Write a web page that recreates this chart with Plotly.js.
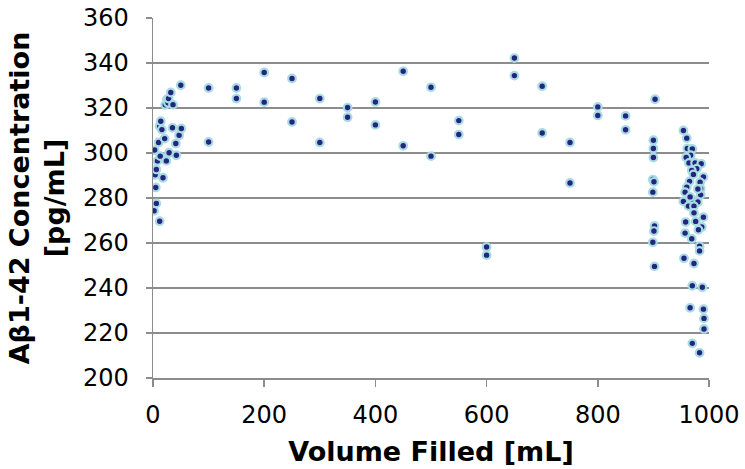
<!DOCTYPE html>
<html>
<head>
<meta charset="utf-8">
<script src="https://cdn.plot.ly/plotly-3.0.1.min.js"></script>
<style>html,body{margin:0;padding:0;background:#fff;}#chart{width:745px;height:469px;}</style>
</head>
<body>
<div id="chart"></div>
<script>
// Volume filled [mL]
const volume = [
  2, 6, 5, 4, 6, 3, 8, 10, 12, 13, 12, 14, 16, 18, 21, 22, 24, 25, 27, 28, 29, 32, 35, 36, 41, 42, 47, 51, 50,
  100, 100, 150, 150, 200, 200, 250, 250, 300, 300, 350, 350, 400, 400, 450, 450, 500, 500, 550, 550,
  600, 600, 650, 650, 700, 700, 750, 750, 800, 800, 850, 850,
  903, 900, 900, 900, 899, 901, 899, 902, 901, 899, 902,
  954, 960, 961, 970, 967, 959, 964, 975, 986, 978, 969, 990, 965, 984, 960, 985, 985, 957,
  954, 970, 980, 963, 973, 973, 990, 958, 976, 987, 957, 981, 969, 983, 983, 955, 973,
  970, 988, 966, 990, 991, 991, 970, 983, 972, 980, 966
];
// Abeta1-42 concentration [pg/mL]
const concentration = [
  274.3, 277.6, 284.7, 290.3, 292.7, 301.3, 296.5, 304.7, 311.9, 298.6, 269.7, 314.1, 310.4, 289.0, 306.4, 321.4, 296.5, 323.8, 322.3, 324.2, 300.1, 326.9, 311.2, 321.5, 304.2, 299.0, 307.9, 310.9, 330.1,
  328.9, 304.9, 328.9, 324.2, 335.8, 322.6, 333.1, 313.8, 324.2, 304.7, 320.2, 315.9, 322.7, 312.5, 336.3, 303.2, 329.2, 298.6, 314.4, 308.2,
  258.2, 254.6, 342.2, 334.4, 329.7, 308.9, 304.7, 286.7, 320.5, 316.7, 316.5, 310.3,
  323.9, 305.7, 302.0, 298.0, 288.2, 287.2, 282.6, 267.6, 265.3, 260.3, 249.6,
  310.0, 306.6, 302.0, 301.8, 299.0, 298.0, 295.6, 295.6, 295.2, 293.0, 292.2, 289.3, 287.4, 287.0, 284.8, 284.1, 281.4, 282.6,
  278.5, 279.4, 278.2, 276.4, 276.4, 273.4, 271.5, 269.3, 269.6, 267.1, 264.4, 265.9, 261.9, 258.6, 256.5, 253.2, 250.9,
  241.0, 240.3, 231.2, 230.6, 226.5, 221.8, 215.4, 211.2, 290.5, 284.0, 280.5
];
const xTicks = [0, 200, 400, 600, 800, 1000];
const yTicks = [200, 220, 240, 260, 280, 300, 320, 340, 360];

const trace = {
  x: volume,
  y: concentration,
  type: 'scatter',
  mode: 'markers',
  marker: {
    size: 7.6,
    color: '#24257f',
    line: {color: '#a8dbe2', width: 2.2}
  },
  hoverinfo: 'x+y'
};

const FONT = 'DejaVu Sans, Verdana, sans-serif';

const layout = {
  width: 745,
  height: 469,
  margin: {l: 153, r: 36, t: 18, b: 91, pad: 0},
  paper_bgcolor: '#ffffff',
  plot_bgcolor: '#ffffff',
  showlegend: false,
  font: {family: FONT, color: '#000000', size: 22},
  xaxis: {
    range: [0, 1000],
    tickvals: xTicks,
    ticktext: xTicks.map(String),
    showgrid: false,
    zeroline: false,
    showline: true,
    linecolor: '#8c8c8c',
    linewidth: 1.5,
    ticks: 'outside',
    ticklen: 7,
    tickwidth: 1.5,
    tickcolor: '#8c8c8c',
    ticklabelstandoff: 8,
    tickfont: {family: FONT, size: 24, color: '#000'},
    automargin: false,
    title: {
      text: 'Volume Filled [mL]',
      font: {family: FONT, size: 27, color: '#000', weight: 'bold'},
      standoff: 14
    }
  },
  yaxis: {
    range: [200, 360],
    tickvals: yTicks,
    ticktext: yTicks.map(String),
    showgrid: true,
    gridcolor: '#8c8c8c',
    gridwidth: 1.6,
    zeroline: false,
    showline: true,
    linecolor: '#8c8c8c',
    linewidth: 1.5,
    ticks: 'outside',
    ticklen: 6,
    tickwidth: 1.5,
    tickcolor: '#8c8c8c',
    ticklabelstandoff: 12,
    tickfont: {family: FONT, size: 24, color: '#000'},
    automargin: false,
    title: {
      text: 'Aβ1-42 Concentration<br>[pg/mL]',
      font: {family: FONT, size: 27, color: '#000', weight: 'bold'},
      standoff: 10
    }
  }
};

Plotly.newPlot('chart', [trace], layout, {displayModeBar: false, staticPlot: true});
</script>
</body>
</html>
